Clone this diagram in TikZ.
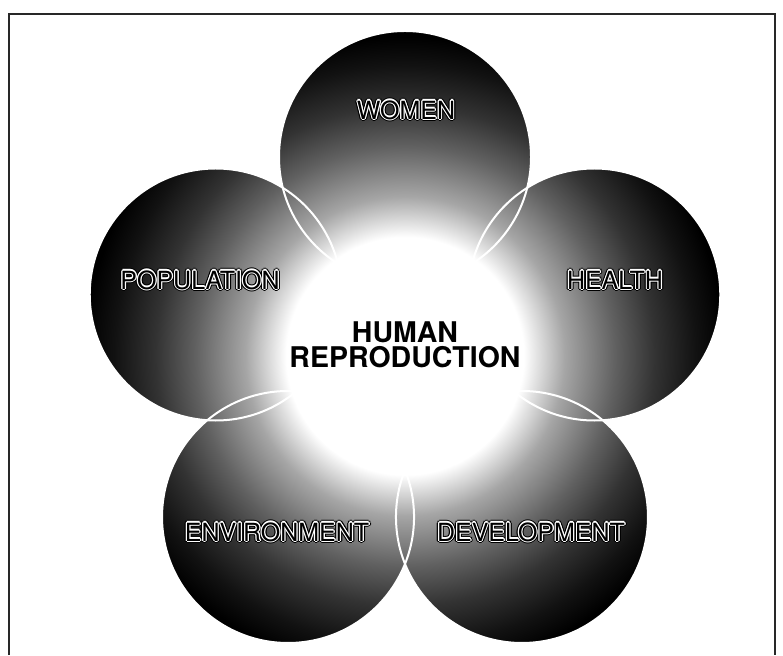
\documentclass[tikz,border=0pt]{standalone}
\usepackage{fontspec}
\setmainfont{TeX Gyre Heros}
\usepackage{xcolor}
\definecolor{petaldark}{RGB}{0,0,0}
\definecolor{framegray}{RGB}{40,40,40}
\usepackage{tikz}
\usetikzlibrary{calc}

% fade from the hub outwards
\pgfdeclareradialshading{petalfade}{\pgfpoint{0bp}{0bp}}{%
  color(0bp)=(white); color(9bp)=(white); color(12.1bp)=(petaldark!35);
  color(15.9bp)=(petaldark!62); color(18.9bp)=(petaldark!80);
  color(22bp)=(petaldark!93); color(24.2bp)=(petaldark); color(50bp)=(petaldark)}

\tikzset{
  petallabel/.style={font=\fontsize{25}{25}\selectfont, inner sep=0pt},
  hublabel/.style={font=\fontsize{28.5}{25}\selectfont\bfseries, align=center, inner sep=0pt},
  lensline/.style={white, line width=2pt}
}

% outlined petal text
\newcommand{\ringlabel}[3]{%
  \foreach \a in {0,45,...,315}
    \node[petallabel, black] at ($(#2)+(\a:2.4)$) {#3};
  \foreach \a in {0,45,...,315}
    \node[petallabel, white] at ($(#2)+(\a:1.2)$) {#3};
  \node[petallabel, black] (#1) at (#2) {#3};}

\begin{document}
\begin{tikzpicture}[x=1pt, y=1pt]
  \useasboundingbox (0,0) rectangle (783,655);
  \fill[white] (0,0) rectangle (783,655);

  % Frame
  \draw[line width=2pt, framegray] (9,0) -- (9,641) -- (775,641) -- (775,0);

  % Petal centres
  \coordinate (hub) at (405,299);
  \foreach \n/\ang in {women/90, population/162, environment/234, development/306, health/18}
    \coordinate (\n) at ($(hub)+(\ang:199)$);

  % Petals
  \foreach \n in {women, population, environment, development, health} {
    \begin{scope}
      \clip (\n) circle (126);
      \shade[shading=petalfade] ($(hub)+(-330,-330)$) rectangle ($(hub)+(330,330)$);
    \end{scope}
  }

  % Lens edges
  \foreach \n in {women, population, environment, development, health}
    \draw[lensline] (\n) circle (126);

  % Labels
  \ringlabel{lwomen}{406,545}{WOMEN}
  \ringlabel{lpopulation}{200,375}{POPULATION}
  \ringlabel{lhealth}{615,375}{HEALTH}
  \ringlabel{lenvironment}{277,123}{ENVIRONMENT}
  \ringlabel{ldevelopment}{531,123}{DEVELOPMENT}

  % Hub
  \node[hublabel] (lhub) at (405,310) {HUMAN\\REPRODUCTION};
\end{tikzpicture}
\end{document}
